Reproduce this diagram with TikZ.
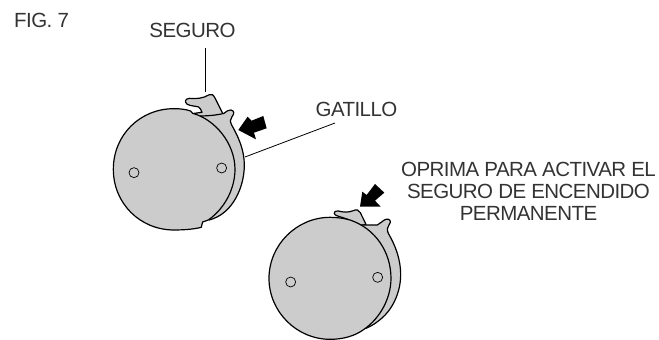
\documentclass[tikz,border=0pt]{standalone}
\usepackage{fontspec}
\setmainfont[LetterSpace=-2.7]{Liberation Sans}
\tikzset{
  part/.style={draw=black,fill=black!20,line width=1.2pt,line join=round},
  hole/.style={draw=black,fill=black!20,line width=0.7pt,circle,minimum size=10pt,inner sep=0pt},
  leader/.style={draw=black,line width=0.8pt},
  label/.style={inner sep=0pt,font=\fontsize{20.5}{22}\selectfont,text=black!80},
  pressarrow/.style={fill=black,draw=none},
  zoomA/.style={shift={(100,80)},x=0.3333pt,y=-0.3333pt},
  zoomB/.style={shift={(260,170)},x=0.3333pt,y=-0.3333pt}
}
\begin{document}
\begin{tikzpicture}[x=1pt,y=-1pt]
\useasboundingbox (0,0) rectangle (659,340);
\node[label,anchor=west] (fig) at (14,20.5) {FIG. 7};
\node[label] (seguro) at (192.5,30) {SEGURO};
\node[label] (gatillo) at (356.5,109) {GATILLO};
\node[label,align=center] (oprima) at (528.5,191) {OPRIMA PARA ACTIVAR EL\\SEGURO DE ENCENDIDO\\PERMANENTE};
\coordinate (sa) at (205,48);
\coordinate (sb) at (205,92);
\coordinate (ga) at (335,123);
\coordinate (gb) at (245,157);
\draw[leader] (sa) -- (sb);
\draw[leader] (gb) -- (ga);
% upper assembly
\begin{scope}[zoomA]
\draw[part] (283,100) -- (306,97) .. controls (302,90) and (302,84) .. (296,81)
  .. controls (285,78) and (272,78) .. (262,73) .. controls (252,66) and (256,56) .. (268,55)
  .. controls (285,57) and (310,56) .. (328,44) .. controls (335,40) and (340,45) .. (345,54)
  -- (370,104) -- (300,112) -- cycle;
\draw[part] (295,108) .. controls (320,108) and (350,106) .. (372,100) .. controls (380,95) and (385,88) .. (393,90)
  .. controls (404,92) and (403,102) .. (396,110) .. controls (390,118) and (390,125) .. (395,135)
  .. controls (415,170) and (433,210) .. (433,255) .. controls (433,310) and (410,365) .. (375,395)
  .. controls (360,408) and (345,415) .. (328,420) -- cycle;
\draw[part] (272,93) -- (278,100) .. controls (345,118) and (405,190) .. (405,268) .. controls (405,325) and (375,385) .. (325,420)
  -- (308,426) .. controls (304,432) and (307,438) .. (304,442)
  .. controls (280,448) and (250,450) .. (222,450) .. controls (120,450) and (40,370) .. (40,268)
  .. controls (40,165) and (120,86) .. (222,86) .. controls (240,86) and (258,88) .. (272,93) -- cycle;
\node[hole] (h1) at (102,278) {};
\node[hole] (h2) at (365,264) {};
\fill[pressarrow] (415,150) -- (443,110) -- (455,122) -- (490,108) -- (500,145) -- (462,158) -- (468,178) -- cycle;
\end{scope}
% lower assembly
\begin{scope}[zoomB]
\draw[part] (268,150) .. controls (250,142) and (235,140) .. (226,135) .. controls (219,129) and (224,122) .. (235,123)
  .. controls (250,127) and (265,128) .. (280,122) .. controls (290,117) and (297,120) .. (301,128)
  -- (318,163) -- (290,170) -- cycle;
\draw[part] (295,165) -- (352,165) .. controls (362,160) and (370,150) .. (378,148)
  .. controls (390,145) and (395,155) .. (388,163) .. controls (382,170) and (380,180) .. (385,190)
  .. controls (405,225) and (422,265) .. (422,315) .. controls (422,370) and (395,420) .. (365,445)
  .. controls (350,458) and (335,468) .. (318,475) -- cycle;
\draw[part] (270,150) .. controls (345,175) and (393,245) .. (393,325) .. controls (393,385) and (360,445) .. (312,478)
  .. controls (285,498) and (250,508) .. (210,508) .. controls (110,508) and (27,425) .. (27,325)
  .. controls (27,225) and (110,142) .. (210,142) .. controls (232,142) and (252,145) .. (270,150) -- cycle;
\node[hole] (h3) at (92,336) {};
\node[hole] (h4) at (353,322) {};
\fill[pressarrow] (300,110) -- (307,65) -- (320,75) -- (345,42) -- (373,68) -- (345,92) -- (362,110) -- cycle;
\end{scope}
\end{tikzpicture}
\end{document}
